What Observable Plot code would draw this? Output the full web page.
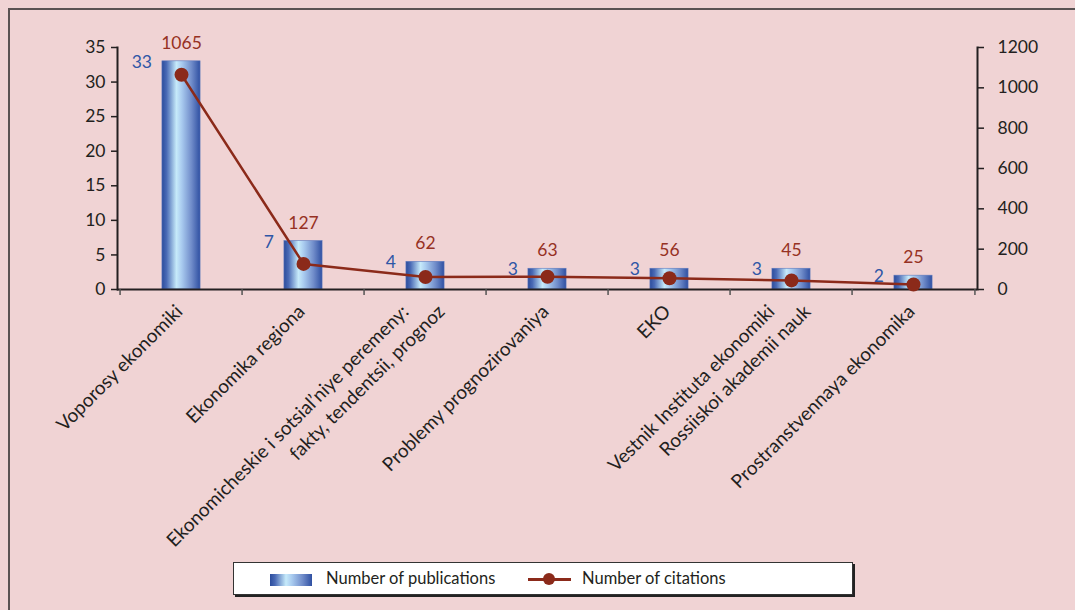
<!DOCTYPE html>
<html>
<head>
<meta charset="utf-8">
<script src="https://cdn.jsdelivr.net/npm/d3@7"></script>
<script src="https://cdn.jsdelivr.net/npm/@observablehq/plot@0.6"></script>
<style>
  html, body { margin: 0; padding: 0; background: #f0d3d4; }
  #page { position: relative; width: 1075px; height: 610px; overflow: hidden; background: #f0d3d4; font-family: Lato, sans-serif; }
  #border { position: absolute; left: 8px; top: 8px; width: 1100px; height: 700px; border-top: 2px solid #5a5252; border-left: 2px solid #5a5252; box-sizing: border-box; }
  #chart { position: absolute; left: 0; top: 0; }
  #legend { position: absolute; left: 233px; top: 562px; width: 620px; height: 33px; background: #fff; border: 1px solid #333; box-shadow: 2px 2px 0 #222; box-sizing: border-box; font-size: 16.5px; color: #231f20; }
  #legend .sw1 { position: absolute; left: 36px; top: 11px; width: 42px; height: 12px; background: linear-gradient(to right, #2b4c9c 0%, #4a6ab5 12%, #c6eafa 38%, #a9cbef 52%, #6f8bc9 78%, #2f50a2 100%); }
  #legend .t1 { position: absolute; left: 92px; top: 5px; }
  #legend .sw2 { position: absolute; left: 294px; top: 15px; width: 43px; height: 2.5px; background: #8b2a1a; }
  #legend .dot { position: absolute; left: 309px; top: 10px; width: 12px; height: 12px; border-radius: 50%; background: #8b2a1a; }
  #legend .t2 { position: absolute; left: 348px; top: 5px; }
</style>
</head>
<body>
<div id="page">
  <div id="border"></div>
  <div id="chart"></div>
  <div id="legend">
    <div class="sw1"></div><div class="t1">Number of publications</div>
    <div class="sw2"></div><div class="dot"></div><div class="t2">Number of citations</div>
  </div>
</div>
<script>
const journals = [
  "Voporosy ekonomiki",
  "Ekonomika regiona",
  "Ekonomicheskie i sotsial’niye peremeny:\nfakty, tendentsii, prognoz",
  "Problemy prognozirovaniya",
  "EKO",
  "Vestnik Instituta ekonomiki\nRossiiskoi akademii nauk",
  "Prostranstvennaya ekonomika"
];
const publications = [33, 7, 4, 3, 3, 3, 2];
const citations = [1065, 127, 62, 63, 56, 45, 25];
const leftTicks = [0, 5, 10, 15, 20, 25, 30, 35];
const rightTicks = [0, 200, 400, 600, 800, 1000, 1200];

const data = journals.map((j, i) => ({journal: j, pubs: publications[i], cites: citations[i]}));
const k = 35 / 1200;

// split category names into label lines (single line, first of two, second of two)
const labelLines = journals.flatMap(j => {
  const parts = j.split("\n");
  return parts.map((t, li) => ({journal: j, text: t, kind: parts.length === 1 ? "single" : (li === 0 ? "first" : "second")}));
});

const W = 1075, H = 550, ML = 117, MR = 98;
const step = (W - ML - MR) / journals.length;
const barW = 39;
const inset = (step - barW) / 2;
const axisColor = "#231f20";
const red = "#8b2a1a";
const FONT = "Lato, sans-serif";
const FS_NUM = 17.5;
const FS_LAB = 19;

const labelMark = (kind, dx) => Plot.text(labelLines.filter(d => d.kind === kind), {
  x: "journal", y: () => 0, text: "text", rotate: -45, textAnchor: "end",
  dx: dx - 2, dy: 19, fill: axisColor, fontSize: FS_LAB
});

const chart = Plot.plot({
  width: W,
  height: H,
  marginLeft: ML,
  marginRight: MR,
  marginTop: 47,
  marginBottom: H - 289,
  style: {background: "transparent", fontFamily: FONT, fontSize: FS_NUM + "px", color: axisColor, overflow: "visible"},
  x: {domain: journals, padding: 0, label: null, axis: null},
  y: {domain: [0, 35], label: null, axis: null},
  marks: [
    Plot.barY(data, {x: "journal", y: "pubs", fill: "url(#barGrad)", insetLeft: inset, insetRight: inset, stroke: "#5d79bd", strokeWidth: 0.6}),
    Plot.frame({anchor: "left", stroke: axisColor, strokeWidth: 2}),
    Plot.frame({anchor: "right", stroke: axisColor, strokeWidth: 2}),
    Plot.ruleY([0], {stroke: axisColor, strokeWidth: 2}),
    Plot.axisY({anchor: "left", ticks: leftTicks, tickSize: 6, tickPadding: 6, label: null, stroke: axisColor, strokeWidth: 1.5, fontSize: FS_NUM}),
    Plot.axisY({anchor: "right", ticks: rightTicks.map(v => v * k), tickFormat: d => String(Math.round(d / k)), tickSize: 6, tickPadding: 14, label: null, stroke: axisColor, strokeWidth: 1.5, fontSize: FS_NUM}),
    Plot.axisX({tickSize: 6, text: null, label: null, dx: -step / 2, stroke: "#555", strokeWidth: 1.5}),
    Plot.axisX({ticks: [journals[journals.length - 1]], tickSize: 6, text: null, label: null, dx: step / 2, stroke: "#555", strokeWidth: 1.5}),
    labelMark("single", 0),
    labelMark("first", -18),
    labelMark("second", 18),
    Plot.line(data, {x: "journal", y: d => d.cites * k, stroke: red, strokeWidth: 2.5}),
    Plot.dot(data, {x: "journal", y: d => d.cites * k, r: 7, fill: red, stroke: "none"}),
    Plot.text(data, {x: "journal", y: "pubs", text: d => String(d.cites), dy: -18, fill: "#963123", fontSize: FS_NUM}),
    Plot.text(data, {x: "journal", y: "pubs", text: d => String(d.pubs), dx: -(barW / 2 + 10), dy: 1, textAnchor: "end", fill: "#2e56a6", fontSize: FS_NUM})
  ]
});

const defs = d3.select(chart).insert("defs", ":first-child");
const g = defs.append("linearGradient").attr("id", "barGrad").attr("x1", "0%").attr("x2", "100%").attr("y1", "0%").attr("y2", "0%");
[["0%", "#2b4c9c"], ["12%", "#4a6ab5"], ["38%", "#c6eafa"], ["52%", "#a9cbef"], ["78%", "#6f8bc9"], ["100%", "#2f50a2"]]
  .forEach(([o, c]) => g.append("stop").attr("offset", o).attr("stop-color", c));

document.getElementById("chart").appendChild(chart);
</script>
</body>
</html>
